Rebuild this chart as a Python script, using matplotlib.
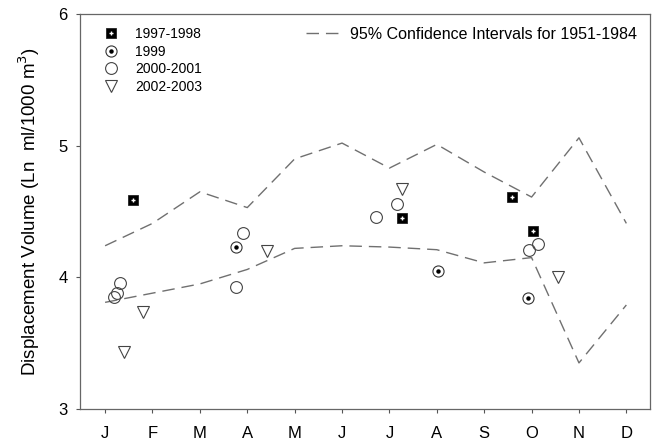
import matplotlib
matplotlib.use("Agg")
import matplotlib.pyplot as plt
from matplotlib.lines import Line2D
from matplotlib.legend_handler import HandlerTuple

plt.rcParams["font.family"] = ["Liberation Sans", "DejaVu Sans"]

months = ["J", "F", "M", "A", "M", "J", "J", "A", "S", "O", "N", "D"]
month_pos = list(range(1, 13))

# 95% confidence band, 1951-1984
ci_upper = [4.24, 4.41, 4.65, 4.53, 4.90, 5.02, 4.83, 5.01, 4.80, 4.61, 5.06, 4.41]
ci_lower = [3.81, 3.88, 3.95, 4.06, 4.22, 4.24, 4.23, 4.21, 4.11, 4.15, 3.35, 3.79]

# sample years (x = fractional month)
x_9798 = [1.59, 7.26, 9.58, 10.03]
y_9798 = [4.59, 4.45, 4.61, 4.35]

x_99 = [3.77, 8.02, 9.92]
y_99 = [4.23, 4.05, 3.84]

x_0001 = [1.32, 1.25, 1.19, 3.90, 3.77, 6.71, 7.17, 9.94, 10.13]
y_0001 = [3.96, 3.88, 3.85, 4.34, 3.93, 4.46, 4.56, 4.21, 4.25]

x_0203 = [1.40, 1.80, 4.42, 7.26, 10.55]
y_0203 = [3.43, 3.74, 4.20, 4.67, 4.00]

fig = plt.figure(figsize=(6.52, 4.40), dpi=100)
ax = fig.add_axes([0.1227, 0.0705, 0.8743, 0.8975])

ci_color = "#707070"
dash = (0, (9, 5))
ax.plot(month_pos, ci_upper, color=ci_color, lw=1.0, linestyle=dash)
ax.plot(month_pos, ci_lower, color=ci_color, lw=1.0, linestyle=dash)

sq_style = dict(ls="none", marker="s", ms=7.5, mfc="black", mec="#222222", mew=0.6)
sq_cross = dict(ls="none", marker="+", ms=3.5, mec="white", mew=1.0)
ring_style = dict(ls="none", marker="o", ms=8, mfc="white", mec="#333333", mew=0.8)
ring_dot = dict(ls="none", marker="o", ms=2.2, mfc="black", mec="black")
circ_style = dict(ls="none", marker="o", ms=8.5, mfc="none", mec="#444444", mew=0.8)
tri_style = dict(ls="none", marker="v", ms=8.5, mfc="white", mec="#444444", mew=0.8)

# 1997-1998: black square with white cross
ax.plot(x_9798, y_9798, **sq_style)
ax.plot(x_9798, y_9798, **sq_cross)
# 1999: open circle with centre dot
ax.plot(x_99, y_99, **ring_style)
ax.plot(x_99, y_99, **ring_dot)
# 2000-2001: open circle
ax.plot(x_0001, y_0001, **circ_style)
# 2002-2003: open down triangle
ax.plot(x_0203, y_0203, **tri_style)

ax.set_xlim(0.47, 12.5)
ax.set_ylim(3, 6)
ax.set_xticks(month_pos)
ax.set_xticklabels(months)
ax.set_yticks([3, 4, 5, 6])
ax.tick_params(direction="out", length=3, width=0.8, color="#555555", labelsize=12)
ax.tick_params(axis="x", pad=9)
ax.tick_params(axis="y", pad=6)
for s in ax.spines.values():
    s.set_color("#666666")
    s.set_linewidth(0.9)

ax.set_ylabel("Displacement Volume (Ln  ml/1000 m$^3$)", fontsize=13.5, labelpad=12)

# every handle is a tuple so all entries share one handler and line up
h9798 = (Line2D([], [], **sq_style), Line2D([], [], **sq_cross))
h99 = (Line2D([], [], **ring_style), Line2D([], [], **ring_dot))
h0001 = (Line2D([], [], **circ_style),)
h0203 = (Line2D([], [], **tri_style),)

leg1 = ax.legend([h9798, h99, h0001, h0203],
                 ["1997-1998", "1999", "2000-2001", "2002-2003"],
                 handler_map={tuple: HandlerTuple(ndivide=1)},
                 loc="upper left", bbox_to_anchor=(0.016, 1.003), frameon=False,
                 fontsize=10, handlelength=1.2, handletextpad=1.1,
                 labelspacing=0.27, borderaxespad=0.6)
ax.add_artist(leg1)

h_ci = Line2D([], [], color=ci_color, lw=1.0, linestyle=dash)
ax.legend([h_ci], ["95% Confidence Intervals for 1951-1984"], loc="upper right",
          bbox_to_anchor=(1.0, 1.0), frameon=False, fontsize=11.5,
          handlelength=2.0, handletextpad=0.75, borderaxespad=0.4)

fig.savefig("out.png", dpi=100)
